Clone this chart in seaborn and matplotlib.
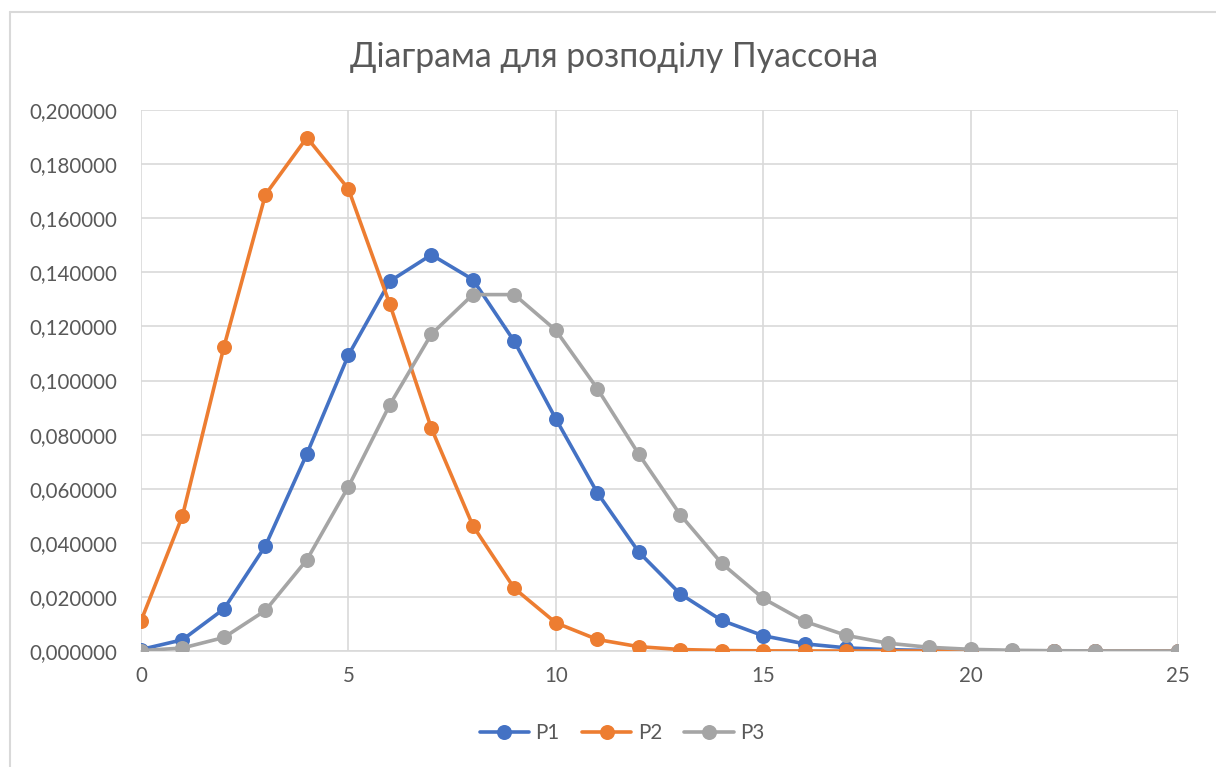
import matplotlib
matplotlib.use("Agg")
import matplotlib.pyplot as plt
from matplotlib.lines import Line2D
from matplotlib.ticker import FuncFormatter, MultipleLocator
import numpy as np
import pandas as pd
import seaborn as sns

# x values of the table (24 is absent in the source data)
k_values = list(range(0, 24)) + [25]

p1 = [0.000553, 0.004148, 0.015555, 0.038889, 0.072916, 0.109375, 0.136718,
      0.146484, 0.137329, 0.114441, 0.085830, 0.058521, 0.036575, 0.021101,
      0.011304, 0.005652, 0.002649, 0.001169, 0.000487, 0.000192, 0.000072,
      0.000026, 0.000009, 0.000003, 0.000000]
p2 = [0.011109, 0.049990, 0.112479, 0.168718, 0.189808, 0.170827, 0.128120,
      0.082363, 0.046329, 0.023165, 0.010424, 0.004264, 0.001599, 0.000554,
      0.000178, 0.000053, 0.000015, 0.000004, 0.000001, 0.000000, 0.000000,
      0.000000, 0.000000, 0.000000, 0.000000]
p3 = [0.000123, 0.001111, 0.004998, 0.014994, 0.033737, 0.060727, 0.091090,
      0.117116, 0.131756, 0.131756, 0.118580, 0.097020, 0.072765, 0.050376,
      0.032384, 0.019431, 0.010930, 0.005786, 0.002893, 0.001370, 0.000617,
      0.000264, 0.000108, 0.000042, 0.000006]

series_names = ["P1", "P2", "P3"]
series_colors = ["#4472C4", "#ED7D31", "#A5A5A5"]
title_text = "Діаграма для розподілу Пуассона"

df = pd.concat([
    pd.DataFrame({"k": k_values, "p": vals, "series": name})
    for name, vals in zip(series_names, [p1, p2, p3])
], ignore_index=True)

sns.set_theme(style="white")
plt.rcParams["font.family"] = ["Lato", "DejaVu Sans"]

W, H = 1216, 767
fig = plt.figure(figsize=(W / 100, H / 100), dpi=100)
ax = fig.add_axes([141 / W, 1 - 651 / H, (1178 - 141) / W, (651 - 110) / H])

grid_c = "#D9D9D9"
text_c = "#595959"

sns.lineplot(data=df, x="k", y="p", hue="series", palette=series_colors,
             marker="o", markersize=10.8, markeredgewidth=0, linewidth=2.6,
             ax=ax, legend=False, zorder=3)

ax.set_xlim(0, 25)
ax.set_ylim(0, 0.2)
ax.xaxis.set_major_locator(MultipleLocator(5))
ax.yaxis.set_major_locator(MultipleLocator(0.02))
ax.yaxis.set_major_formatter(FuncFormatter(lambda v, _: f"{v:.6f}".replace(".", ",")))
ax.grid(True, color=grid_c, linewidth=1.2, zorder=0)
ax.set_axisbelow(True)
for side in ["top", "right", "left"]:
    ax.spines[side].set_visible(False)
ax.spines["bottom"].set_color(grid_c)
ax.spines["bottom"].set_linewidth(1.2)
ax.tick_params(axis="both", length=0, labelsize=14.8, colors=text_c)
ax.tick_params(axis="x", pad=11)
ax.tick_params(axis="y", pad=17)
ax.set_xlabel("")
ax.set_ylabel("")

fig.text(614 / W, 1 - 57 / H, title_text, ha="center", va="center",
         fontsize=24.3, color=text_c)

handles = [Line2D([0], [0], color=c, linewidth=2.6, marker="o", markersize=10.8,
                  markeredgewidth=0) for c in series_colors]
fig.legend(handles, series_names, loc="center", bbox_to_anchor=(622 / W, 1 - 733 / H),
           ncol=3, frameon=False, fontsize=14.8, labelcolor=text_c,
           handlelength=2.4, columnspacing=1.1, handletextpad=0.3)

# chart frame edges
fig.add_artist(Line2D([10 / W, 1], [1 - 11.5 / H, 1 - 11.5 / H], color="#D9D9D9", linewidth=1.5))
fig.add_artist(Line2D([10 / W, 10 / W], [0, 1 - 11.5 / H], color="#D9D9D9", linewidth=1.5))

fig.savefig("out.png", dpi=100, facecolor="white")
